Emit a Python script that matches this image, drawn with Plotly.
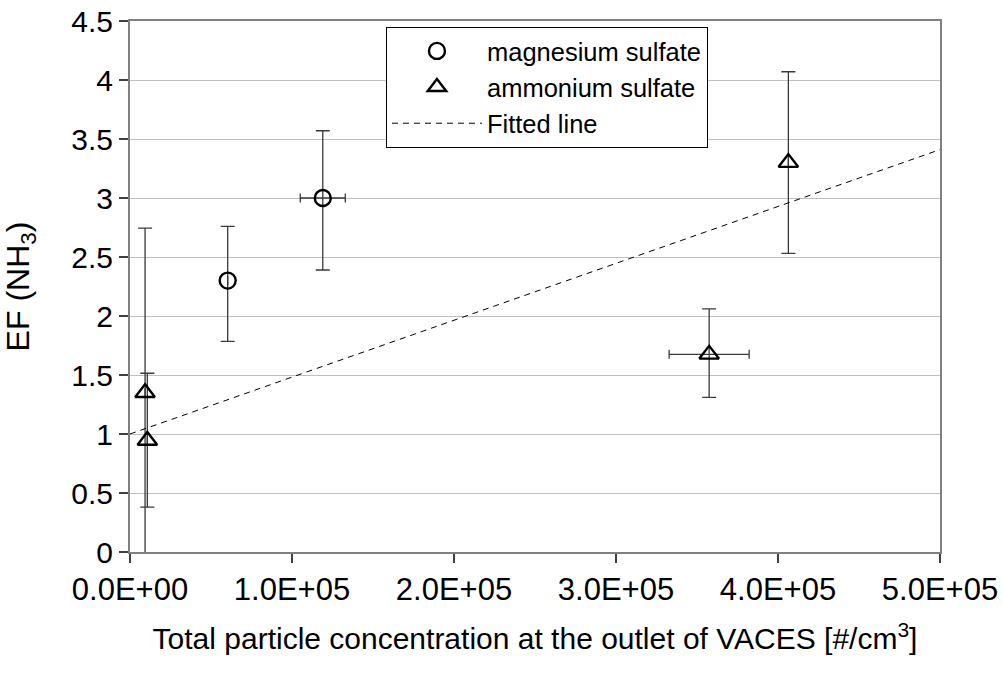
import plotly.graph_objects as go

# ---- data ----
mg_x = [60300, 119000]
mg_y = [2.30, 3.00]
mg_yerr_plus = [0.46, 0.57]
mg_yerr_minus = [0.515, 0.61]
mg_xerr = [0, 13900]

am_x = [9300, 10700, 357500, 406400]
am_y = [1.35, 0.945, 1.675, 3.30]
am_yerr_plus = [1.395, 0.57, 0.385, 0.77]
am_yerr_minus = [1.45, 0.565, 0.365, 0.77]
am_xerr = [0, 0, 24700, 0]

fit_x = [0, 500000]
fit_y = [1.0, 3.41]

x_tick_vals = [0, 100000, 200000, 300000, 400000, 500000]
x_tick_text = ["0.0E+00", "1.0E+05", "2.0E+05", "3.0E+05", "4.0E+05", "5.0E+05"]

FONT = "Liberation Sans, Arial, sans-serif"
ERR_COLOR = "#3a3a3a"
AXIS_COLOR = "#808080"

fig = go.Figure()

fig.add_trace(go.Scatter(
    x=mg_x, y=mg_y, mode="markers", name="magnesium sulfate",
    marker=dict(symbol="circle-open", size=16, color="black", line=dict(width=2.4, color="black")),
    error_y=dict(type="data", symmetric=False, array=mg_yerr_plus, arrayminus=mg_yerr_minus,
                 color=ERR_COLOR, thickness=1.3, width=7),
    error_x=dict(type="data", array=mg_xerr, color=ERR_COLOR, thickness=1.3, width=4.5),
))

fig.add_trace(go.Scatter(
    x=am_x, y=am_y, mode="markers", name="ammonium sulfate",
    marker=dict(symbol="triangle-up-open", size=17, color="black", line=dict(width=2.4, color="black")),
    error_y=dict(type="data", symmetric=False, array=am_yerr_plus, arrayminus=am_yerr_minus,
                 color=ERR_COLOR, thickness=1.3, width=7),
    error_x=dict(type="data", array=am_xerr, color=ERR_COLOR, thickness=1.3, width=4.5),
))

fig.add_trace(go.Scatter(
    x=fit_x, y=fit_y, mode="lines", name="Fitted line",
    line=dict(color="black", width=1, dash="6px,5px"),
))

fig.update_layout(
    width=1003, height=677,
    margin=dict(l=130, r=63, t=21, b=125),
    paper_bgcolor="white", plot_bgcolor="white",
    font=dict(family=FONT, color="black", size=30),
    showlegend=True,
    legend=dict(
        x=0.316, y=0.989, xanchor="left", yanchor="top",
        bordercolor="black", borderwidth=1, bgcolor="white",
        font=dict(size=25.5, family=FONT, color="black"),
        itemwidth=90,
    ),
)

fig.update_xaxes(
    range=[0, 500000], tickmode="array", tickvals=x_tick_vals, ticktext=x_tick_text,
    ticks="outside", ticklen=9, tickwidth=1.5, tickcolor="#404040",
    showline=True, linecolor=AXIS_COLOR, linewidth=2, mirror=True,
    showgrid=False, zeroline=False, automargin=False, ticklabeloverflow="allow",
    tickfont=dict(size=31, family=FONT, color="black"),
    title=dict(text="Total particle concentration at the outlet of VACES [#/cm<sup>3</sup>]",
               font=dict(size=30, family=FONT, color="black"), standoff=22),
)

fig.update_yaxes(
    range=[0, 4.5], dtick=0.5, tick0=0,
    ticks="outside", ticklen=9, tickwidth=1.5, tickcolor="#404040",
    showline=True, linecolor=AXIS_COLOR, linewidth=2, mirror=True,
    showgrid=True, gridcolor="#c0c0c0", gridwidth=1, zeroline=False, automargin=False,
    ticklabeloverflow="allow",
    tickfont=dict(size=30, family=FONT, color="black"),
    title=dict(text="EF (NH<sub>3</sub>)", font=dict(size=32, family=FONT, color="black"), standoff=40),
)

# remove the default 8px page margin so the figure fills the window exactly
fig.write_html(
    "out.html",
    config={"displayModeBar": False},
    post_script="document.body.style.margin='0px';document.body.style.overflow='hidden';",
)
